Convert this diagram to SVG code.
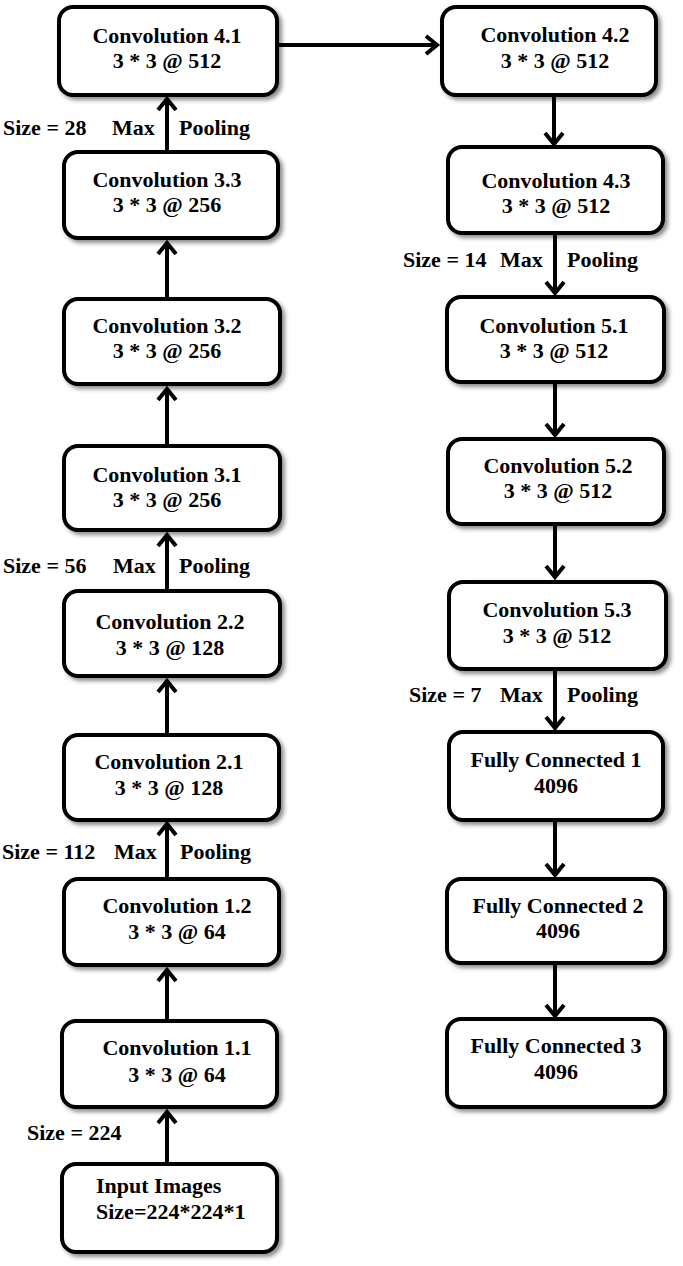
<svg xmlns="http://www.w3.org/2000/svg" width="683" height="1266" viewBox="0 0 683 1266">
<style>
.box{fill:#fff;stroke:#000;stroke-width:4;filter:url(#sh)}
.t{font-family:"Liberation Serif","Times New Roman",serif;font-weight:bold;font-size:22px;fill:#000;text-anchor:middle}
.l{font-family:"Liberation Serif","Times New Roman",serif;font-weight:bold;font-size:22px;fill:#000}
.c{stroke:#000;stroke-width:4;fill:none;marker-end:url(#ah)}
</style>
<defs>
<filter id="sh" x="-10%" y="-10%" width="125%" height="130%">
<feDropShadow dx="3" dy="3" stdDeviation="2" flood-color="#000" flood-opacity="0.45"/>
</filter>
<marker id="ah" markerUnits="userSpaceOnUse" markerWidth="30" markerHeight="30" viewBox="-15 -15 30 30" refX="0" refY="0" orient="auto">
<path d="M-11,-9 L0,0 L-11,9" fill="none" stroke="#000" stroke-width="4"/>
</marker>
</defs>
<rect width="683" height="1266" fill="#fff"/>
<g id="connectors">
<line class="c" x1="167" y1="150" x2="167" y2="99"/>
<line class="c" x1="167" y1="297" x2="167" y2="243"/>
<line class="c" x1="167" y1="444" x2="167" y2="389"/>
<line class="c" x1="167" y1="589" x2="167" y2="535"/>
<line class="c" x1="167" y1="733" x2="167" y2="681"/>
<line class="c" x1="167" y1="877" x2="167" y2="824"/>
<line class="c" x1="167" y1="1019" x2="167" y2="970"/>
<line class="c" x1="167" y1="1162" x2="167" y2="1112"/>
<line class="c" x1="279" y1="45" x2="437" y2="45"/>
<line class="c" x1="554" y1="97" x2="554" y2="144"/>
<line class="c" x1="555" y1="235" x2="555" y2="293"/>
<line class="c" x1="555" y1="384" x2="555" y2="435"/>
<line class="c" x1="555" y1="526" x2="555" y2="577"/>
<line class="c" x1="555" y1="671" x2="555" y2="728"/>
<line class="c" x1="555" y1="822" x2="555" y2="875"/>
<line class="c" x1="555" y1="965" x2="555" y2="1016"/>
</g>
<g id="labels">
<text class="l" x="3" y="135">Size = 28</text><text class="l" x="112" y="135">Max</text><text class="l" x="179" y="135">Pooling</text>
<text class="l" x="3" y="573">Size = 56</text><text class="l" x="113" y="573">Max</text><text class="l" x="179" y="573">Pooling</text>
<text class="l" x="2" y="859">Size = 112</text><text class="l" x="114" y="859">Max</text><text class="l" x="180" y="859">Pooling</text>
<text class="l" x="27" y="1140">Size = 224</text>
<text class="l" x="403" y="267">Size = 14</text><text class="l" x="500" y="267">Max</text><text class="l" x="567" y="267">Pooling</text>
<text class="l" x="409" y="702">Size = 7</text><text class="l" x="500" y="702">Max</text><text class="l" x="567" y="702">Pooling</text>
</g>
<g id="conv41"><rect class="box" x="59" y="7" width="218" height="88" rx="14"/><text class="t" x="167" y="43">Convolution 4.1</text><text class="t" x="167" y="68">3 * 3 @ 512</text></g>
<g id="conv33"><rect class="box" x="64" y="152" width="214" height="86" rx="14"/><text class="t" x="167" y="187">Convolution 3.3</text><text class="t" x="167" y="212">3 * 3 @ 256</text></g>
<g id="conv32"><rect class="box" x="64" y="299" width="216" height="85" rx="14"/><text class="t" x="167" y="333">Convolution 3.2</text><text class="t" x="167" y="358">3 * 3 @ 256</text></g>
<g id="conv31"><rect class="box" x="64" y="446" width="216" height="84" rx="14"/><text class="t" x="167" y="482">Convolution 3.1</text><text class="t" x="167" y="507">3 * 3 @ 256</text></g>
<g id="conv22"><rect class="box" x="64" y="591" width="216" height="85" rx="14"/><text class="t" x="170" y="629">Convolution 2.2</text><text class="t" x="170" y="655">3 * 3 @ 128</text></g>
<g id="conv21"><rect class="box" x="64" y="735" width="215" height="85" rx="14"/><text class="t" x="169" y="769">Convolution 2.1</text><text class="t" x="169" y="795">3 * 3 @ 128</text></g>
<g id="conv12"><rect class="box" x="64" y="879" width="215" height="86" rx="14"/><text class="t" x="177" y="913">Convolution 1.2</text><text class="t" x="177" y="939">3 * 3 @ 64</text></g>
<g id="conv11"><rect class="box" x="62" y="1021" width="215" height="86" rx="14"/><text class="t" x="177" y="1055">Convolution 1.1</text><text class="t" x="177" y="1082">3 * 3 @ 64</text></g>
<g id="input"><rect class="box" x="62" y="1164" width="215" height="88" rx="14"/><text class="l" x="96" y="1193">Input Images</text><text class="l" x="96" y="1219">Size=224*224*1</text></g>
<g id="conv42"><rect class="box" x="442" y="7" width="214" height="88" rx="14"/><text class="t" x="555" y="42">Convolution 4.2</text><text class="t" x="555" y="68">3 * 3 @ 512</text></g>
<g id="conv43"><rect class="box" x="448" y="147" width="215" height="86" rx="14"/><text class="t" x="556" y="188">Convolution 4.3</text><text class="t" x="556" y="213">3 * 3 @ 512</text></g>
<g id="conv51"><rect class="box" x="447" y="297" width="217" height="85" rx="14"/><text class="t" x="554" y="333">Convolution 5.1</text><text class="t" x="554" y="358">3 * 3 @ 512</text></g>
<g id="conv52"><rect class="box" x="448" y="439" width="216" height="85" rx="14"/><text class="t" x="558" y="473">Convolution 5.2</text><text class="t" x="558" y="498">3 * 3 @ 512</text></g>
<g id="conv53"><rect class="box" x="449" y="582" width="217" height="87" rx="14"/><text class="t" x="557" y="617">Convolution 5.3</text><text class="t" x="557" y="643">3 * 3 @ 512</text></g>
<g id="fc1"><rect class="box" x="449" y="732" width="214" height="88" rx="14"/><text class="t" x="556" y="767">Fully Connected 1</text><text class="t" x="556" y="793">4096</text></g>
<g id="fc2"><rect class="box" x="447" y="879" width="218" height="84" rx="14"/><text class="t" x="558" y="913">Fully Connected 2</text><text class="t" x="558" y="938">4096</text></g>
<g id="fc3"><rect class="box" x="447" y="1019" width="218" height="88" rx="14"/><text class="t" x="556" y="1053">Fully Connected 3</text><text class="t" x="556" y="1079">4096</text></g>
</svg>
